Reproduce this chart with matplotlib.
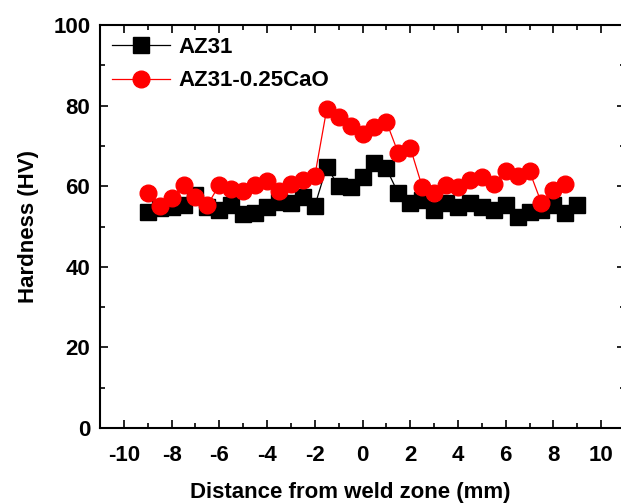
import matplotlib
matplotlib.use("Agg")
import matplotlib.pyplot as plt
from matplotlib.ticker import MultipleLocator

plt.rcParams['font.family'] = ['Liberation Sans', 'DejaVu Sans']
plt.rcParams['font.weight'] = 'bold'
plt.rcParams['axes.unicode_minus'] = False

# distance from weld centre (mm), 0.5 mm steps
dist_az31 = [-9, -8.5, -8, -7.5, -7, -6.5, -6, -5.5, -5, -4.5, -4, -3.5, -3, -2.5,
             -2, -1.5, -1, -0.5, 0, 0.5, 1, 1.5, 2, 2.5, 3, 3.5, 4, 4.5, 5, 5.5,
             6, 6.5, 7, 7.5, 8, 8.5, 9]
hv_az31 = [53.5, 54.5, 54.8, 55.3, 57.8, 54.9, 54.1, 55.3, 53.1, 53.3, 54.9, 56.2,
           55.8, 57.4, 55.1, 64.8, 60.0, 59.9, 62.4, 65.7, 64.4, 58.2, 55.8, 56.6,
           54.1, 55.8, 54.9, 55.8, 54.9, 54.1, 55.3, 52.4, 53.7, 54.1, 55.3, 53.3,
           55.3]

dist_cao = [-9, -8.5, -8, -7.5, -7, -6.5, -6, -5.5, -5, -4.5, -4, -3.5, -3, -2.5,
            -2, -1.5, -1, -0.5, 0, 0.5, 1, 1.5, 2, 2.5, 3, 3.5, 4, 4.5, 5, 5.5,
            6, 6.5, 7, 7.5, 8, 8.5]
hv_cao = [58.4, 55.1, 57.0, 60.3, 57.2, 55.3, 60.3, 59.3, 58.9, 60.2, 61.4, 58.9,
          60.5, 61.5, 62.5, 79.1, 77.1, 74.9, 73.0, 74.8, 76.0, 68.2, 69.6, 59.9,
          58.2, 60.3, 59.9, 61.5, 62.4, 60.5, 63.7, 62.5, 63.7, 55.8, 59.1, 60.5]

fig = plt.figure(figsize=(6.21, 5.03), dpi=100)
ax = fig.add_axes([100 / 621, 75 / 503, 525 / 621, 403 / 503])

ax.plot(dist_az31, hv_az31, color='black', lw=0.9, marker='s', ms=11,
        mec='black', mfc='black', label='AZ31')
ax.plot(dist_cao, hv_cao, color='red', lw=0.9, marker='o', ms=12,
        mec='red', mfc='red', label='AZ31-0.25CaO')

ax.set_xlim(-11, 11)
ax.set_ylim(0, 100)
ax.xaxis.set_major_locator(MultipleLocator(2))
ax.xaxis.set_minor_locator(MultipleLocator(1))
ax.yaxis.set_major_locator(MultipleLocator(20))
ax.yaxis.set_minor_locator(MultipleLocator(10))
ax.tick_params(which='both', direction='in', top=True, right=True,
               width=1.2, labelsize=16)
ax.tick_params(which='major', length=6)
ax.tick_params(which='minor', length=3.5)
ax.tick_params(axis='x', pad=12)
ax.tick_params(axis='y', pad=7)
for s in ax.spines.values():
    s.set_linewidth(1.5)

ax.set_xlabel('Distance from weld zone (mm)', fontsize=16, fontweight='bold',
              labelpad=13)
ax.xaxis.set_label_coords(250 / 525, -0.135)
ax.set_ylabel('Hardness (HV)', fontsize=16, fontweight='bold', labelpad=10)

ax.legend(loc='upper left', frameon=False, fontsize=16, handlelength=2.6,
          borderaxespad=0.2, labelspacing=0.55, handletextpad=0.4,
          borderpad=0.35)

fig.savefig('out.png', dpi=100)
